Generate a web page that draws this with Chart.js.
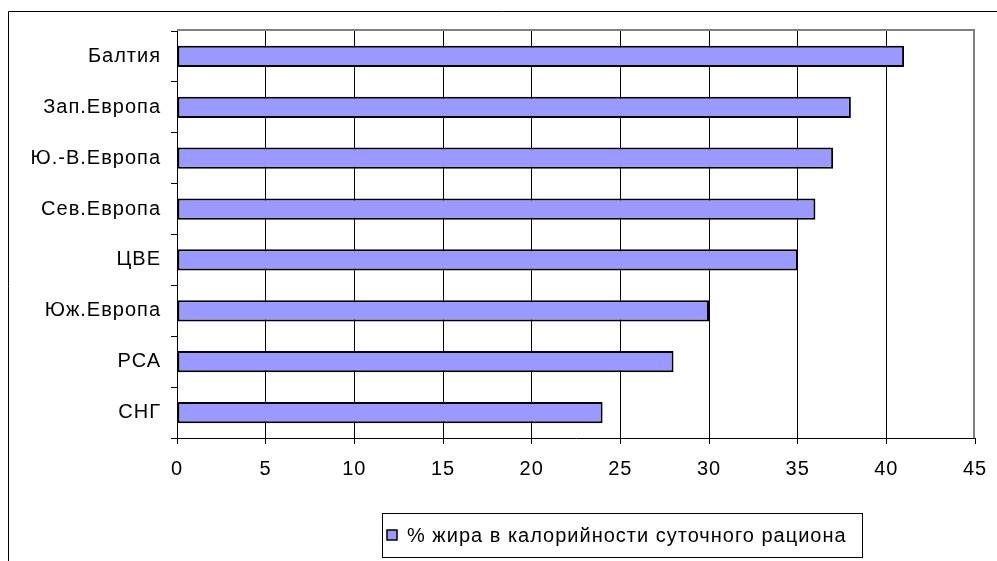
<!DOCTYPE html>
<html>
<head>
<meta charset="utf-8">
<script src="https://cdn.jsdelivr.net/npm/chart.js"></script>
<style>
    html, body { margin: 0; padding: 0; background: #fff; }
    #wrap { width: 997px; height: 561px; }
</style>
</head>
<body>
<div id="wrap"><canvas id="fatChart" width="997" height="561"></canvas></div>
<script>
    // Regions and share of fat in daily calories (%)
    const regions = ['Балтия', 'Зап.Европа', 'Ю.-В.Европа', 'Сев.Европа', 'ЦВЕ', 'Юж.Европа', 'РСА', 'СНГ'];
    const fatShare = [41, 38, 37, 36, 35, 30, 28, 24];
    const seriesName = '% жира в калорийности суточного рациона';
    const xTicks = [0, 5, 10, 15, 20, 25, 30, 35, 40, 45];

    const FONT = 'Arial, "Liberation Sans", sans-serif';
    const barColor = '#9999ff';

    // Frame around the whole chart, grey plot-area edge and the boxed legend
    const framePlugin = {
        id: 'frame',
        beforeDraw(chart) {
            // slightly loose lettering for every label
            chart.ctx.letterSpacing = '1px';
        },
        beforeDatasetsDraw(chart) {
            const { ctx, chartArea: a } = chart;
            ctx.save();
            ctx.strokeStyle = '#808080';
            ctx.lineWidth = 2;
            ctx.beginPath();
            ctx.moveTo(a.left, a.top - 1);
            ctx.lineTo(a.right - 1, a.top - 1);
            ctx.lineTo(a.right - 1, a.bottom);
            ctx.stroke();
            ctx.restore();
        },
        afterDraw(chart) {
            const { ctx } = chart;
            ctx.save();
            ctx.strokeStyle = '#000';
            ctx.lineWidth = 1;
            ctx.beginPath();
            ctx.moveTo(8.5, 561);
            ctx.lineTo(8.5, 11.5);
            ctx.lineTo(997, 11.5);
            ctx.stroke();

            // legend box
            const lx = 382, ly = 513, lw = 480, lh = 44;
            ctx.strokeRect(lx + 0.5, ly + 0.5, lw, lh);
            ctx.fillStyle = barColor;
            ctx.fillRect(387, 530, 10, 10);
            ctx.lineWidth = 1.5;
            ctx.strokeRect(387, 530, 10, 10);
            ctx.fillStyle = '#000';
            ctx.font = '20px ' + FONT;
            ctx.textBaseline = 'middle';
            ctx.fillText(chart.data.datasets[0].label, 407, 536);
            ctx.restore();
        }
    };

    new Chart(document.getElementById('fatChart'), {
        type: 'bar',
        data: {
            labels: regions,
            datasets: [{
                label: seriesName,
                data: fatShare,
                backgroundColor: barColor,
                borderColor: '#000',
                borderWidth: 2,
                borderSkipped: false,
                categoryPercentage: 0.42,
                barPercentage: 1
            }]
        },
        options: {
            indexAxis: 'y',
            responsive: false,
            animation: false,
            layout: { padding: { left: 0, right: 22, top: 31, bottom: 83 } },
            plugins: {
                legend: { display: false },
                tooltip: { enabled: false }
            },
            scales: {
                x: {
                    min: 0,
                    max: 45,
                    afterBuildTicks(scale) {
                        scale.ticks = xTicks.map(v => ({ value: v }));
                    },
                    afterFit(scale) {
                        scale.height = 40;
                        scale.paddingLeft = 0;
                        scale.paddingRight = 0;
                    },
                    grid: {
                        color: ctx => (ctx.tick && ctx.tick.value === 45) ? 'rgba(0,0,0,0)' : '#000',
                        tickColor: '#000',
                        tickLength: 6,
                        lineWidth: 1
                    },
                    border: { color: '#000', width: 1 },
                    ticks: {
                        color: '#000',
                        padding: 13,
                        maxRotation: 0,
                        font: { family: FONT, size: 20 }
                    }
                },
                y: {
                    afterFit(scale) { scale.width = 177; },
                    grid: {
                        offset: true,
                        drawOnChartArea: false,
                        color: '#000',
                        tickLength: 6
                    },
                    border: { color: '#000', width: 1 },
                    ticks: {
                        color: '#000',
                        padding: 10,
                        font: { family: FONT, size: 20 }
                    }
                }
            }
        },
        plugins: [framePlugin]
    });
</script>
</body>
</html>
